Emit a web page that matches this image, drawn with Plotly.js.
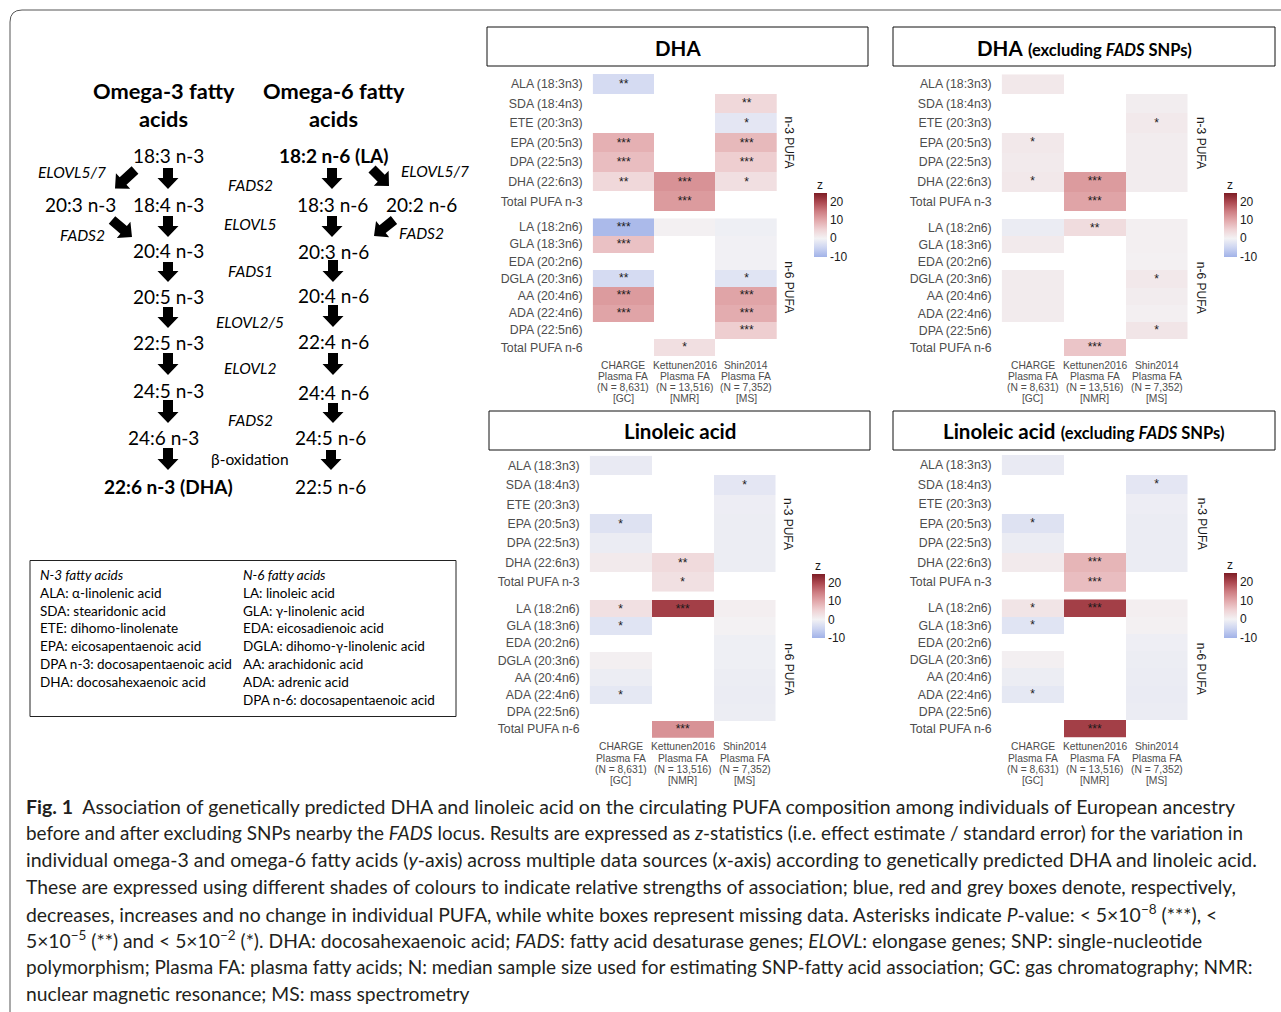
<!DOCTYPE html>
<html><head><meta charset="utf-8">
<script src="https://cdn.plot.ly/plotly-3.0.1.min.js"></script>
<style>html,body{margin:0;padding:0;background:#fff}</style>
</head><body><div id="chart" style="width:1281px;height:1012px"></div>
<script>
const W = 1281, H = 1012;

// ---------- data ----------
const datasetKeys = ["CHARGE", "Kettunen2016", "Shin2014"];
const datasetLabelLines = [
  ["CHARGE", "Plasma FA", "(N = 8,631)", "[GC]"],
  ["Kettunen2016", "Plasma FA", "(N = 13,516)", "[NMR]"],
  ["Shin2014", "Plasma FA", "(N = 7,352)", "[MS]"]
];
const n3Rows = ["ALA (18:3n3)", "SDA (18:4n3)", "ETE (20:3n3)", "EPA (20:5n3)", "DPA (22:5n3)", "DHA (22:6n3)", "Total PUFA n-3"];
const n6Rows = ["LA (18:2n6)", "GLA (18:3n6)", "EDA (20:2n6)", "DGLA (20:3n6)", "AA (20:4n6)", "ADA (22:4n6)", "DPA (22:5n6)", "Total PUFA n-6"];
const facetLabels = ["n-3 PUFA", "n-6 PUFA"];
const colorTicks = [-10, 0, 10, 20];
const colorTickText = ["-10", "0", "10", "20"];

// DHA
const dhaN3Z = [[-4, null, null], [null, null, 4], [null, null, -2], [9, null, 8], [7.5, null, 5.5], [4, 12.5, 3], [null, 11.5, null]];
const dhaN3Sig = [["**", "", ""], ["", "", "**"], ["", "", "*"], ["***", "", "***"], ["***", "", "***"], ["**", "***", "*"], ["", "***", ""]];
const dhaN6Z = [[-9, 0.3, -0.6], [7, null, -0.3], [null, null, -0.3], [-4, null, -2.5], [11.5, null, 10.5], [10.5, null, 9.5], [null, null, 5.5], [null, 3, null]];
const dhaN6Sig = [["***", "", ""], ["***", "", ""], ["", "", ""], ["**", "", "*"], ["***", "", "***"], ["***", "", "***"], ["", "", "***"], ["", "*", ""]];

// DHA excluding FADS SNPs
const dhaXN3Z = [[1.6, null, null], [null, null, 0.8], [null, null, 1.4], [1.5, null, 1.0], [1.2, null, 1.0], [1.6, 11.5, 1.0], [null, 10.5, null]];
const dhaXN3Sig = [["", "", ""], ["", "", ""], ["", "", "*"], ["*", "", ""], ["", "", ""], ["*", "***", ""], ["", "***", ""]];
const dhaXN6Z = [[-1, 3.5, 0.5], [1.3, null, 0.5], [null, null, 0.3], [1.1, null, 1.6], [1.1, null, 1.0], [1.1, null, 0.5], [null, null, 2], [null, 6.5, null]];
const dhaXN6Sig = [["", "**", ""], ["", "", ""], ["", "", ""], ["", "", "*"], ["", "", ""], ["", "", ""], ["", "", "*"], ["", "***", ""]];

// Linoleic acid
const laN3Z = [[-1.3, null, null], [null, null, -2], [null, null, -0.8], [-2.7, null, -0.9], [-1.1, null, -0.9], [1.2, 3.8, -0.9], [null, 2.8, null]];
const laN3Sig = [["", "", ""], ["", "", "*"], ["", "", ""], ["*", "", ""], ["", "", ""], ["", "**", ""], ["", "*", ""]];
const laN6Z = [[2.8, 21, 0.6], [-2.5, null, 0.2], [null, null, -0.6], [0.4, null, -0.6], [-0.9, null, -0.9], [-1.8, null, -1.1], [null, null, -0.9], [null, 12.5, null]];
const laN6Sig = [["*", "***", ""], ["*", "", ""], ["", "", ""], ["", "", ""], ["", "", ""], ["*", "", ""], ["", "", ""], ["", "***", ""]];

// Linoleic acid excluding FADS SNPs
const laXN3Z = [[-1.3, null, null], [null, null, -2], [null, null, -0.8], [-2.7, null, -1.0], [-1.1, null, -1.0], [1.2, 8.5, -1.0], [null, 7.5, null]];
const laXN3Sig = [["", "", ""], ["", "", "*"], ["", "", ""], ["*", "", ""], ["", "", ""], ["", "***", ""], ["", "***", ""]];
const laXN6Z = [[2.2, 21, 0.6], [-2.5, null, 0.3], [null, null, -0.7], [0.4, null, -0.9], [-0.9, null, -1.0], [-1.8, null, -1.2], [null, null, -1.0], [null, 21, null]];
const laXN6Sig = [["*", "***", ""], ["*", "", ""], ["", "", ""], ["", "", ""], ["", "", ""], ["*", "", ""], ["", "", ""], ["", "***", ""]];

// ---------- helpers ----------
const xd = px => px / W;
const yd = py => 1 - py / H;
const Z_MIN = -10.2, Z_MAX = 25;
const cpos = v => (v - Z_MIN) / (Z_MAX - Z_MIN);
const colorscale = [
  [0, '#a1b2e8'], [cpos(-5), '#cdd5f1'], [cpos(0), '#f3f2f4'], [cpos(5), '#efd2d4'],
  [cpos(10), '#e2a8ab'], [cpos(15), '#cd7c81'], [cpos(20), '#ac4850'], [1, '#7d1d25']
];
const AX_FONT = 'Liberation Sans, Arial, sans-serif';
const CAL = 'Lato, Open Sans, sans-serif';
const SUB = '<span style="font-size:16.5px">(excluding <i>FADS</i> SNPs)</span>';

const panels = [
  {title: '<b>DHA</b>', box: [487, 27, 868, 66],
   cols: [592.7, 777], n3: [74, 211], n6: [218.3, 356], cb: [814, 192.7, 256.7], strip: 789,
   data: [[dhaN3Z, dhaN3Sig], [dhaN6Z, dhaN6Sig]]},
  {title: '<b>DHA</b> <b>' + SUB + '</b>', box: [893, 27, 1275, 66],
   cols: [1001.7, 1187.7], n3: [74.3, 211], n6: [219, 356], cb: [1224, 192.7, 256.7], strip: 1201.7,
   data: [[dhaXN3Z, dhaXN3Sig], [dhaXN6Z, dhaXN6Sig]]},
  {title: '<b>Linoleic acid</b>', box: [489, 411, 870, 450],
   cols: [589.7, 775.7], n3: [455.7, 591.7], n6: [600, 737.7], cb: [812, 574, 638.3], strip: 788.7,
   data: [[laN3Z, laN3Sig], [laN6Z, laN6Sig]]},
  {title: '<b>Linoleic acid</b> <b>' + SUB + '</b>', box: [893, 411, 1275, 450],
   cols: [1001.7, 1187.7], n3: [455, 591.7], n6: [599.3, 737.7], cb: [1224, 573, 637.7], strip: 1201.7,
   data: [[laXN3Z, laXN3Sig], [laXN6Z, laXN6Sig]]}
];

const traces = [];
const layout = {
  width: W, height: H, margin: {l: 0, r: 0, t: 0, b: 0},
  paper_bgcolor: '#fff', plot_bgcolor: '#fff', showlegend: false,
  font: {family: AX_FONT}, annotations: [], shapes: []
};
const ann = layout.annotations, shp = layout.shapes;

let ai = 0;
panels.forEach((p, pi) => {
  [0, 1].forEach(f => {
    ai++;
    const rows = f === 0 ? n3Rows : n6Rows;
    const yr = f === 0 ? p.n3 : p.n6;
    const sfx = ai === 1 ? '' : String(ai);
    const tr = {
      type: 'heatmap', x: datasetKeys, y: rows, z: p.data[f][0], text: p.data[f][1],
      texttemplate: '%{text}', textfont: {size: 12, color: '#1a1a1a', family: AX_FONT},
      colorscale: colorscale, zmin: Z_MIN, zmax: Z_MAX, hoverongaps: false,
      xaxis: 'x' + sfx, yaxis: 'y' + sfx, showscale: f === 0
    };
    if (f === 0) {
      tr.colorbar = {
        x: xd(p.cb[0]), xanchor: 'left', y: yd(p.cb[1]), yanchor: 'top',
        len: (p.cb[2] - p.cb[1]) / H, lenmode: 'fraction', thickness: 13, thicknessmode: 'pixels',
        xpad: 0, ypad: 0, outlinewidth: 0, tickvals: colorTicks, ticktext: colorTickText, ticks: '',
        tickfont: {size: 12, color: '#1a1a1a', family: AX_FONT}
      };
      ann.push({xref: 'paper', yref: 'paper', x: xd(p.cb[0] + 6), y: yd(p.cb[1] - 8), text: 'z', showarrow: false,
        font: {size: 12, color: '#1a1a1a', family: AX_FONT}, xanchor: 'center', yanchor: 'middle'});
    }
    traces.push(tr);
    layout['xaxis' + sfx] = {
      domain: [xd(p.cols[0]), xd(p.cols[1])], anchor: 'y' + sfx, type: 'category',
      categoryarray: datasetKeys, range: [-0.5, 2.5], showgrid: false, zeroline: false, showline: false,
      ticks: '', showticklabels: false, fixedrange: true
    };
    layout['yaxis' + sfx] = {
      domain: [yd(yr[1]), yd(yr[0])], anchor: 'x' + sfx, type: 'category',
      categoryarray: rows, range: [rows.length - 0.5, -0.5], showgrid: false, zeroline: false,
      showline: false, ticks: '', tickfont: {size: 12.3, color: '#4d4d4d', family: AX_FONT},
      fixedrange: true, ticklabelstandoff: 9
    };
    ann.push({xref: 'paper', yref: 'paper', x: xd(p.strip), y: yd((yr[0] + yr[1]) / 2), text: facetLabels[f],
      textangle: 90, showarrow: false, xanchor: 'center', yanchor: 'middle',
      font: {size: 12, color: '#1a1a1a', family: AX_FONT}});
    if (f === 1) {
      datasetKeys.forEach((k, ci) => {
        datasetLabelLines[ci].forEach((line, li) => {
          ann.push({xref: 'x' + sfx, yref: 'paper', x: k, y: yd(yr[1] + 9 + li * 11.3), text: line,
            showarrow: false, xanchor: 'center', yanchor: 'middle',
            font: {size: 10.3, color: '#4d4d4d', family: AX_FONT}});
        });
      });
    }
  });
  shp.push({type: 'rect', xref: 'paper', yref: 'paper', x0: xd(p.box[0]), x1: xd(p.box[2]), y0: yd(p.box[3]), y1: yd(p.box[1]),
    line: {color: '#111', width: 1}, fillcolor: 'rgba(0,0,0,0)'});
  ann.push({xref: 'paper', yref: 'paper', x: xd((p.box[0] + p.box[2]) / 2), y: yd((p.box[1] + p.box[3]) / 2 + 1),
    xanchor: 'center', yanchor: 'middle',
    text: p.title, showarrow: false, font: {size: 20.5, color: '#000', family: CAL}});
});

// ---------- pathway diagram ----------
function txt(x, y, text, size, opts) {
  ann.push(Object.assign({xref: 'paper', yref: 'paper', x: xd(x), y: yd(y), text: text, showarrow: false,
    font: {size: size, color: '#000', family: CAL}, xanchor: 'center', yanchor: 'middle'}, opts || {}));
}
function arrow(x1, y1, x2, y2) {
  const dx = x2 - x1, dy = y2 - y1, L = Math.hypot(dx, dy);
  const ux = dx / L, uy = dy / L, nx = -uy, ny = ux;
  const sw = 5, hw = 10.5, hl = 11;
  const kx = x2 - ux * hl, ky = y2 - uy * hl;
  const pts = [[x1 + nx * sw, y1 + ny * sw], [kx + nx * sw, ky + ny * sw], [kx + nx * hw, ky + ny * hw], [x2, y2],
    [kx - nx * hw, ky - ny * hw], [kx - nx * sw, ky - ny * sw], [x1 - nx * sw, y1 - ny * sw]];
  shp.push({type: 'path', xref: 'paper', yref: 'paper',
    path: 'M ' + pts.map(q => xd(q[0]).toFixed(5) + ',' + yd(q[1]).toFixed(5)).join(' L ') + ' Z',
    fillcolor: '#000', line: {width: 0}});
}
txt(163.5, 90, '<b>Omega-3 fatty</b>', 21.8);
txt(163.5, 118.5, '<b>acids</b>', 21.8);
txt(333.5, 90, '<b>Omega-6 fatty</b>', 21.8);
txt(333.5, 118.5, '<b>acids</b>', 21.8);

const n3Nodes = [["18:3 n-3", 168.5, 155], ["18:4 n-3", 168.5, 204.5], ["20:3 n-3", 80, 204.5], ["20:4 n-3", 168.5, 250],
  ["20:5 n-3", 168.5, 296], ["22:5 n-3", 168.5, 343], ["24:5 n-3", 168.5, 390], ["24:6 n-3", 163.5, 438], ["<b>22:6 n-3 (DHA)</b>", 168.5, 486.5]];
const n6Nodes = [["<b>18:2 n-6 (LA)</b>", 333.5, 155], ["18:3 n-6", 332, 204.5], ["20:2 n-6", 422, 204.5], ["20:3 n-6", 333.5, 251.5],
  ["20:4 n-6", 333.5, 295], ["22:4 n-6", 333.5, 341.5], ["24:4 n-6", 333.5, 392.5], ["24:5 n-6", 330, 438], ["22:5 n-6", 330, 486.5]];
n3Nodes.concat(n6Nodes).forEach(n => txt(n[1], n[2], n[0], 19));
const enzymes = [["<i>ELOVL5/7</i>", 72, 172.5], ["<i>FADS2</i>", 82, 235.5], ["<i>FADS2</i>", 250, 184.5], ["<i>ELOVL5</i>", 250, 224],
  ["<i>FADS1</i>", 250, 271.5], ["<i>ELOVL2/5</i>", 250, 322], ["<i>ELOVL2</i>", 250, 367.5], ["<i>FADS2</i>", 250, 420],
  ["β-oxidation", 250, 459], ["<i>ELOVL5/7</i>", 435, 171.5], ["<i>FADS2</i>", 422, 232.5]];
enzymes.forEach(e => txt(e[1], e[2], e[0], 15.5));

[[168, 168, 168, 189], [168, 216, 168, 237], [168, 262, 168, 282], [168, 307, 168, 328], [168, 353, 168, 375],
 [168, 400, 168, 423], [168, 448, 168, 470],
 [332, 168, 332, 189], [332, 216, 332, 237], [333, 260, 333, 282], [333, 305, 333, 327], [333, 353, 333, 375],
 [333, 403, 333, 423], [331, 450, 331, 470],
 [135, 170, 115, 188.5], [112, 220, 132, 237], [372, 169, 389, 186], [394, 220, 374, 236]].forEach(a => arrow(a[0], a[1], a[2], a[3]));

// ---------- abbreviations box ----------
shp.push({type: 'rect', xref: 'paper', yref: 'paper', x0: xd(30), x1: xd(456), y0: yd(716.5), y1: yd(560.5),
  line: {color: '#222', width: 1}, fillcolor: 'rgba(0,0,0,0)'});
const abbrN3 = ["<i>N-3 fatty acids</i>", "ALA: α-linolenic acid", "SDA: stearidonic acid", "ETE: dihomo-linolenate",
  "EPA: eicosapentaenoic acid", "DPA n-3: docosapentaenoic acid", "DHA: docosahexaenoic acid"];
const abbrN6 = ["<i>N-6 fatty acids</i>", "LA: linoleic acid", "GLA: γ-linolenic acid", "EDA: eicosadienoic acid",
  "DGLA: dihomo-γ-linolenic acid", "AA: arachidonic acid", "ADA: adrenic acid", "DPA n-6: docosapentaenoic acid"];
abbrN3.forEach((t, i) => txt(38, 575 + i * 17.8, t, 13.5, {xanchor: 'left'}));
abbrN6.forEach((t, i) => txt(241, 575 + i * 17.8, t, 13.5, {xanchor: 'left'}));

// ---------- caption ----------
const captionLines = [
  "<b>Fig. 1</b>  Association of genetically predicted DHA and linoleic acid on the circulating PUFA composition among individuals of European ancestry",
  "before and after excluding SNPs nearby the <i>FADS</i> locus. Results are expressed as <i>z</i>-statistics (i.e. effect estimate / standard error) for the variation in",
  "individual omega-3 and omega-6 fatty acids (<i>y</i>-axis) across multiple data sources (<i>x</i>-axis) according to genetically predicted DHA and linoleic acid.",
  "These are expressed using different shades of colours to indicate relative strengths of association; blue, red and grey boxes denote, respectively,",
  "decreases, increases and no change in individual PUFA, while white boxes represent missing data. Asterisks indicate <i>P</i>-value: < 5×10<sup>−8</sup> (***), <",
  "5×10<sup>−5</sup> (**) and < 5×10<sup>−2</sup> (*). DHA: docosahexaenoic acid; <i>FADS</i>: fatty acid desaturase genes; <i>ELOVL</i>: elongase genes; SNP: single-nucleotide",
  "polymorphism; Plasma FA: plasma fatty acids; N: median sample size used for estimating SNP-fatty acid association; GC: gas chromatography; NMR:",
  "nuclear magnetic resonance; MS: mass spectrometry"
];
const captionSizes = [19.5, 18.9, 19.5, 19.3, 19.4, 19.3, 19.0, 19.3];
captionLines.forEach((t, i) => txt(24, 806 + i * 26.75, t, captionSizes[i],
  {xanchor: 'left', font: {size: captionSizes[i], color: '#231f20', family: CAL}}));

// outer frame
shp.push({type: 'path', xref: 'paper', yref: 'paper',
  path: `M ${xd(10)},${yd(1012)} L ${xd(10)},${yd(22)} Q ${xd(10)},${yd(10)} ${xd(22)},${yd(10)} L ${xd(1281)},${yd(10)}`,
  line: {color: '#555', width: 1}});

Plotly.newPlot('chart', traces, layout, {staticPlot: true, displayModeBar: false});
</script></body></html>
